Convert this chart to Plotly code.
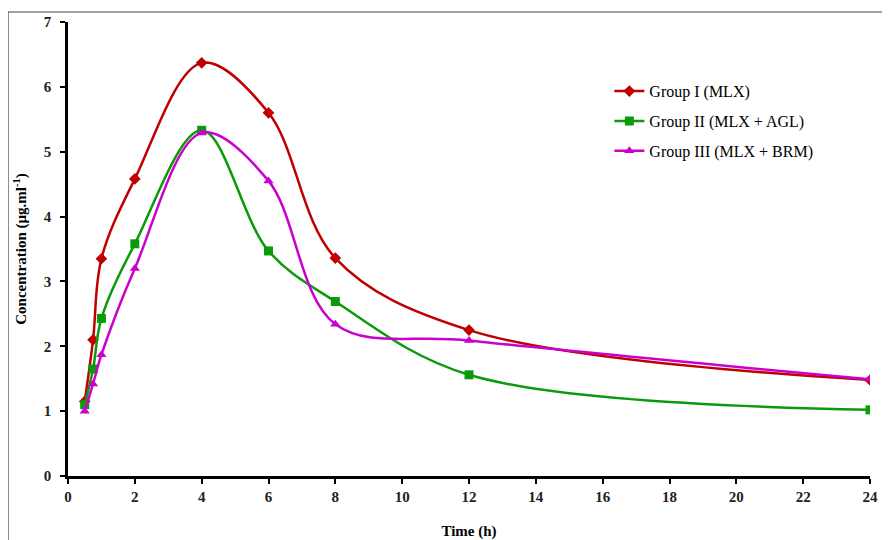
import plotly.graph_objects as go

time_h = [0.5, 0.75, 1, 2, 4, 6, 8, 12, 24]
group1 = [1.15, 2.1, 3.35, 4.58, 6.37, 5.6, 3.36, 2.25, 1.48]
group2 = [1.1, 1.65, 2.43, 3.58, 5.33, 3.47, 2.69, 1.56, 1.02]
group3 = [1.0, 1.42, 1.87, 3.2, 5.29, 4.55, 2.34, 2.09, 1.49]
names = ["Group I (MLX)", "Group II (MLX + AGL)", "Group III (MLX + BRM)"]
colors = ["#C00000", "#0A9A0A", "#CC00CC"]
symbols = ["diamond", "square", "triangle-up"]
x_ticks = list(range(0, 25, 2))
y_ticks = list(range(0, 8))

FONT = "Liberation Serif, Times New Roman, serif"

fig = go.Figure()
for i, (vals, name, col, sym) in enumerate(zip([group1, group2, group3], names, colors, symbols)):
    fig.add_trace(go.Scatter(
        x=time_h, y=vals, name=name, mode="lines+markers", legendgroup=f"g{i}",
        line=dict(color=col, width=2.5, shape="spline", smoothing=1.0),
        marker=dict(color=col, symbol=sym, size=9),
    ))

axis_common = dict(
    showline=True, linecolor="black", linewidth=2.5,
    ticks="outside", ticklen=5, tickwidth=2, tickcolor="black",
    showgrid=False, zeroline=False, automargin=False,
    tickfont=dict(family=FONT, size=15, color="#222"),
)

fig.update_layout(
    width=882, height=532,
    margin=dict(l=60, r=20, t=14, b=64),
    paper_bgcolor="white", plot_bgcolor="white",
    font=dict(family=FONT, color="black"),
    xaxis=dict(range=[0, 24], tickvals=x_ticks, ticktext=[f"<b>{t}</b>" for t in x_ticks],
               title=dict(text="<b>Time (h)</b>", font=dict(family=FONT, size=15), standoff=24),
               **axis_common),
    yaxis=dict(range=[0, 7], tickvals=y_ticks, ticktext=[f"<b>{t}</b>" for t in y_ticks],
               ticklabelstandoff=6,
               title=dict(text="<b>Concentration (µg.ml<sup>-1</sup>)</b>", font=dict(family=FONT, size=15), standoff=14),
               **axis_common),
    legend=dict(x=0.675, y=0.885, xanchor="left", yanchor="top",
                font=dict(family=FONT, size=16, color="black"),
                bgcolor="rgba(0,0,0,0)", itemwidth=30, tracegroupgap=6),
    shapes=[dict(type="rect", xref="paper", yref="paper",
                 x0=-0.0748, x1=1.05, y0=-0.16, y1=1.022,
                 line=dict(color="#444", width=1.2), layer="below")],
)

fig.write_html("out.html")
